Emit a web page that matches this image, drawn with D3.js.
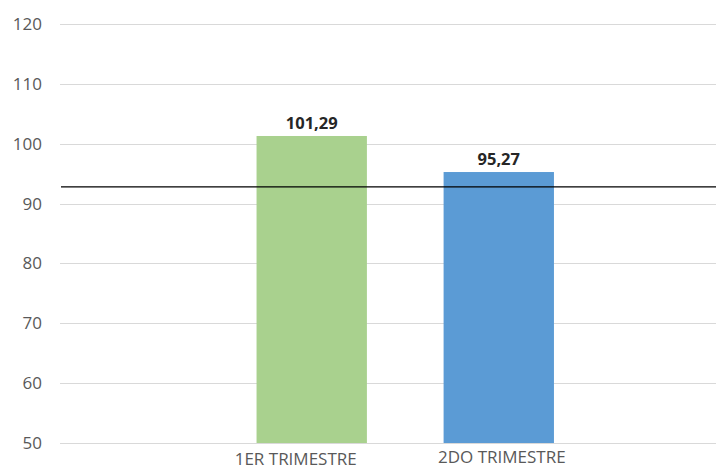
<!DOCTYPE html>
<html>
<head>
<meta charset="utf-8">
<script src="https://cdn.jsdelivr.net/npm/d3@7"></script>
<style>
    body { margin: 0; background: #fff; }
    svg { display: block; }
</style>
</head>
<body>
<div id="container"></div>
<script>
const categories = ['1ER TRIMESTRE', '2DO TRIMESTRE'];
const values = [101.29, 95.27];
const barColors = ['#a9d18e', '#5b9bd5'];
const refValue = 92.8;
const yTicks = [50, 60, 70, 80, 90, 100, 110, 120];

const width = 716, height = 470;
const plotLeft = 60, plotRight = 716;

const svg = d3.select('#container')
    .append('svg')
    .attr('width', width)
    .attr('height', height)
    .style('font-family', '"Open Sans", sans-serif');

const y = d3.scaleLinear()
    .domain([50, 120])
    .range([443, 24]);

const x = d3.scaleBand()
    .domain(categories)
    .range([218.2, 592.3])
    .paddingInner(0.41)
    .paddingOuter(0.205);

// gridlines
svg.append('g')
    .selectAll('line')
    .data(yTicks)
    .join('line')
    .attr('x1', plotLeft)
    .attr('x2', plotRight)
    .attr('y1', d => Math.round(y(d)) + 0.5)
    .attr('y2', d => Math.round(y(d)) + 0.5)
    .attr('stroke', '#d9d9d9')
    .attr('stroke-width', 1);

// y tick labels
svg.append('g')
    .selectAll('text')
    .data(yTicks)
    .join('text')
    .attr('x', 42)
    .attr('y', d => y(d))
    .attr('dy', '0.35em')
    .attr('text-anchor', 'end')
    .attr('fill', '#595959')
    .style('font-size', '17px')
    .text(d => d);

// bars
svg.append('g')
    .selectAll('rect')
    .data(values)
    .join('rect')
    .attr('x', (d, i) => x(categories[i]))
    .attr('width', x.bandwidth())
    .attr('y', d => y(d))
    .attr('height', d => y(50) - y(d))
    .attr('fill', (d, i) => barColors[i]);

// value labels
svg.append('g')
    .selectAll('text')
    .data(values)
    .join('text')
    .attr('x', (d, i) => x(categories[i]) + x.bandwidth() / 2)
    .attr('y', d => y(d) - 7)
    .attr('text-anchor', 'middle')
    .attr('fill', '#262626')
    .style('font-size', '16.5px')
    .style('font-weight', 'bold')
    .text(d => d.toFixed(2).replace('.', ','));

// reference line
svg.append('line')
    .attr('x1', plotLeft + 1)
    .attr('x2', plotRight)
    .attr('y1', y(refValue))
    .attr('y2', y(refValue))
    .attr('stroke', '#000')
    .attr('stroke-width', 1.3);

// category labels
const labelShift = [-16, 3];
svg.append('g')
    .selectAll('text')
    .data(categories)
    .join('text')
    .attr('x', (d, i) => x(d) + x.bandwidth() / 2 + labelShift[i])
    .attr('y', (d, i) => i === 0 ? 465 : 463)
    .attr('text-anchor', 'middle')
    .attr('fill', '#595959')
    .style('font-size', '17px')
    .text(d => d);
</script>
</body>
</html>
